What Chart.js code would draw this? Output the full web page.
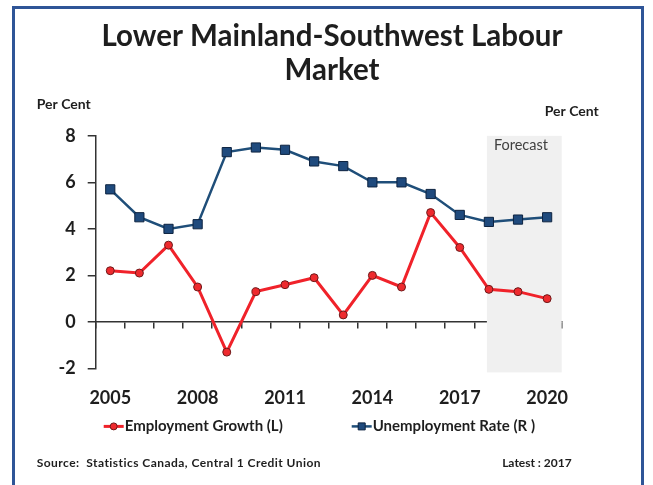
<!DOCTYPE html>
<html>
<head>
<meta charset="utf-8">
<script src="https://cdn.jsdelivr.net/npm/chart.js@4.4.1/dist/chart.umd.min.js"></script>
<style>
  html, body { margin: 0; padding: 0; background: #fff; }
  #wrap { position: relative; width: 653px; height: 485px; overflow: hidden; }
  #frame {
    position: absolute; left: 12px; top: 6px; width: 632px; height: 500px;
    border: 3px solid #2f5597; border-bottom: none; box-sizing: border-box;
  }
  canvas { position: absolute; left: 0; top: 0; }
</style>
</head>
<body>
<div id="wrap">
  <div id="frame"></div>
  <canvas id="labourChart" width="653" height="485"></canvas>
</div>
<script>
document.addEventListener("DOMContentLoaded", function () {

    const years = ['2005', '2006', '2007', '2008', '2009', '2010', '2011', '2012',
                   '2013', '2014', '2015', '2016', '2017', '2018', '2019', '2020'];
    const employmentGrowth = [2.2, 2.1, 3.3, 1.5, -1.3, 1.3, 1.6, 1.9,
                              0.3, 2.0, 1.5, 4.7, 3.2, 1.4, 1.3, 1.0];
    const unemploymentRate = [5.7, 4.5, 4.0, 4.2, 7.3, 7.5, 7.4, 6.9,
                              6.7, 6.0, 6.0, 5.5, 4.6, 4.3, 4.4, 4.5];
    const forecastFrom = '2018';
    const yTicks = [-2, 0, 2, 4, 6, 8];

    const FONT = 'Lato, "Open Sans", sans-serif';
    const TEXT = '#1e1e1e';
    const RED = '#f0222a';
    const BLUE = '#1f4e79';

    const canvas = document.getElementById('labourChart');
    const ctx = canvas.getContext('2d');

    // forecast shading, side labels, legend and source line
    const extras = {
        id: 'extras',
        beforeDatasetsDraw(chart) {
            const c = chart.ctx;
            const ca = chart.chartArea;
            const x = chart.scales.x;
            const y = chart.scales.y;
            const x0 = x.getPixelForValue(years.indexOf(forecastFrom)) - 2;
            const top = y.getPixelForValue(yTicks[yTicks.length - 1]);
            c.save();
            c.fillStyle = '#f0f0f0';
            c.fillRect(x0, top, ca.right - x0, ca.bottom + 4 - top);
            c.fillStyle = '#404040';
            c.font = '14.5px ' + FONT;
            c.textAlign = 'left';
            c.textBaseline = 'middle';
            c.fillText('Forecast', x0 + 7, top + 9);
            c.restore();
        },
        afterDraw(chart) {
            const c = chart.ctx;
            const ca = chart.chartArea;
            c.save();
            c.fillStyle = TEXT;
            c.textBaseline = 'middle';

            c.font = 'bold 14px ' + FONT;
            c.textAlign = 'left';
            c.fillText('Per Cent', ca.left - 59, ca.top - 31);
            c.fillText('Per Cent', ca.right - 17, ca.top - 24);

            // legend
            const ly = ca.bottom + 58;
            const items = [
                { ds: chart.data.datasets[0], x: ca.left + 8 },
                { ds: chart.data.datasets[1], x: ca.left + 256 }
            ];
            c.font = 'bold 15px ' + FONT;
            items.forEach(function (it) {
                c.strokeStyle = it.ds.borderColor;
                c.lineWidth = it.ds.borderWidth;
                c.beginPath();
                c.moveTo(it.x, ly);
                c.lineTo(it.x + 20, ly);
                c.stroke();
                c.fillStyle = it.ds.pointBackgroundColor;
                c.strokeStyle = it.ds.pointBorderColor;
                c.lineWidth = 1;
                c.beginPath();
                if (it.ds.pointStyle === 'rect') {
                    c.rect(it.x + 6.5, ly - 3.5, 7, 7);
                } else {
                    c.arc(it.x + 10, ly, 3.5, 0, Math.PI * 2);
                }
                c.fill();
                c.stroke();
                c.fillStyle = TEXT;
                c.fillText(it.ds.label, it.x + 21, ly);
            });

            c.font = 'bold 12px ' + FONT;
            c.letterSpacing = '0.45px';
            c.fillText('Source:  Statistics Canada, Central 1 Credit Union', ca.left - 59, ca.bottom + 95);
            c.letterSpacing = '0px';
            c.textAlign = 'right';
            c.fillText('Latest : 2017', ca.right + 10, ca.bottom + 95);
            c.restore();
        }
    };

    new Chart(ctx, {
        type: 'line',
        data: {
            labels: years,
            datasets: [
                {
                    label: 'Employment Growth (L)',
                    data: employmentGrowth,
                    yAxisID: 'y',
                    borderColor: RED,
                    borderWidth: 3,
                    pointStyle: 'circle',
                    pointRadius: 4,
                    pointBackgroundColor: '#ee2a2e',
                    pointBorderColor: '#6e1a1a',
                    pointBorderWidth: 1,
                    tension: 0,
                    fill: false
                },
                {
                    label: 'Unemployment Rate (R )',
                    data: unemploymentRate,
                    yAxisID: 'y1',
                    borderColor: BLUE,
                    borderWidth: 2.5,
                    pointStyle: 'rect',
                    pointRadius: 6.5,
                    pointBackgroundColor: '#1f4a7d',
                    pointBorderColor: '#0d2340',
                    pointBorderWidth: 1,
                    tension: 0,
                    fill: false
                }
            ]
        },
        options: {
            responsive: false,
            animation: false,
            devicePixelRatio: 1,
            layout: {
                padding: { left: 20, right: 9, top: 0, bottom: 65 }
            },
            plugins: {
                legend: { display: false },
                tooltip: { enabled: false },
                title: {
                    display: true,
                    text: ['Lower Mainland-Southwest Labour', 'Market'],
                    color: TEXT,
                    font: { family: FONT, size: 29.5, weight: 'bold', lineHeight: 1.15 },
                    padding: { top: 20, bottom: 48 }
                }
            },
            scales: {
                x: {
                    type: 'category',
                    position: { y: 0 },
                    offset: true,
                    border: { display: true, color: '#333', width: 1.5 },
                    grid: {
                        display: true,
                        offset: true,
                        drawOnChartArea: false,
                        drawTicks: true,
                        tickLength: 6,
                        color: '#333',
                        lineWidth: 1.5
                    },
                    ticks: { display: false, autoSkip: false }
                },
                xb: {
                    type: 'category',
                    position: 'bottom',
                    offset: true,
                    border: { display: false },
                    grid: { display: false, offset: true },
                    ticks: {
                        autoSkip: false,
                        maxRotation: 0,
                        padding: 11,
                        color: TEXT,
                        font: { family: FONT, size: 18, weight: 'bold' },
                        callback: function (value, index) {
                            return index % 3 === 0 ? years[index] : '';
                        }
                    }
                },
                y: {
                    position: 'left',
                    min: -2,
                    max: 8,
                    afterBuildTicks: function (scale) {
                        scale.ticks = yTicks.map(v => ({ value: v }));
                    },
                    afterFit: function (scale) { scale.width = 75.7; },
                    border: { display: true, color: '#333', width: 1.5 },
                    grid: {
                        display: true,
                        drawOnChartArea: false,
                        drawTicks: true,
                        tickLength: 8,
                        color: '#333',
                        lineWidth: 1.5
                    },
                    ticks: {
                        padding: 12,
                        color: TEXT,
                        font: { family: FONT, size: 18, weight: 'bold' }
                    }
                },
                y1: {
                    position: 'right',
                    min: -2,
                    max: 8,
                    afterFit: function (scale) { scale.width = 82.3; },
                    border: { display: false },
                    grid: { display: false },
                    ticks: { display: false }
                }
            }
        },
        plugins: [extras]
    });

});
</script>
</body>
</html>
